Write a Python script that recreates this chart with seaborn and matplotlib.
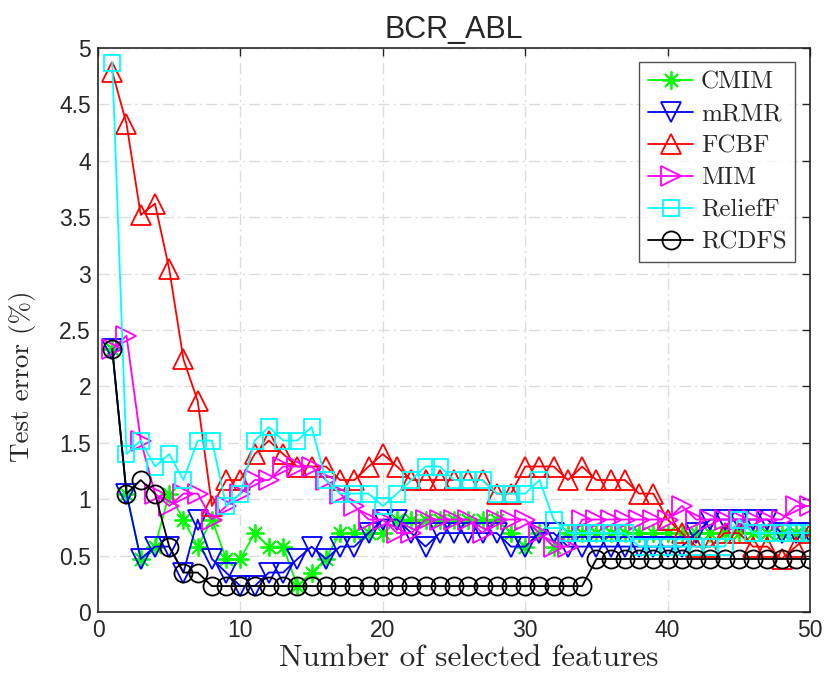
import matplotlib
matplotlib.use("Agg")
import matplotlib.pyplot as plt
import numpy as np
import pandas as pd
import seaborn as sns

# Data (test error in %)
n_features = list(range(1, 51))

cmim = [2.33, 1.05, 0.47, 0.58, 1.05, 0.82, 0.58, 0.82, 0.47, 0.47,
        0.70, 0.58, 0.58, 0.23, 0.35, 0.47, 0.70, 0.70, 0.70, 0.70,
        0.82, 0.82, 0.82, 0.82, 0.82, 0.82, 0.82, 0.82, 0.70, 0.58,
        0.70, 0.58, 0.70, 0.70, 0.70, 0.70, 0.70, 0.70, 0.70, 0.70,
        0.70, 0.70, 0.70, 0.70, 0.70, 0.70, 0.70, 0.70, 0.70, 0.70]
mrmr = [2.33, 1.05, 0.47, 0.58, 0.58, 0.35, 0.82, 0.47, 0.35, 0.23,
        0.23, 0.35, 0.35, 0.47, 0.58, 0.47, 0.58, 0.58, 0.70, 0.82,
        0.82, 0.70, 0.58, 0.70, 0.70, 0.70, 0.70, 0.70, 0.58, 0.58,
        0.70, 0.70, 0.58, 0.58, 0.58, 0.58, 0.58, 0.58, 0.58, 0.58,
        0.58, 0.70, 0.82, 0.82, 0.82, 0.82, 0.82, 0.70, 0.70, 0.70]
fcbf = [4.79, 4.33, 3.52, 3.62, 3.04, 2.24, 1.87, 0.94, 1.17, 1.17,
        1.40, 1.52, 1.40, 1.29, 1.29, 1.29, 1.17, 1.17, 1.29, 1.40,
        1.29, 1.17, 1.17, 1.17, 1.17, 1.17, 1.17, 1.05, 1.05, 1.29,
        1.29, 1.29, 1.17, 1.29, 1.17, 1.17, 1.17, 1.05, 1.05, 0.82,
        0.70, 0.58, 0.58, 0.70, 0.70, 0.58, 0.58, 0.47, 0.58, 0.70]
mim = [2.33, 2.45, 1.52, 1.05, 0.94, 1.05, 1.05, 0.82, 0.94, 1.05,
       1.17, 1.17, 1.29, 1.29, 1.29, 1.17, 1.05, 0.94, 0.82, 0.82,
       0.70, 0.70, 0.82, 0.82, 0.82, 0.82, 0.70, 0.82, 0.82, 0.82,
       0.70, 0.58, 0.58, 0.82, 0.82, 0.82, 0.82, 0.82, 0.82, 0.82,
       0.94, 0.82, 0.82, 0.82, 0.82, 0.82, 0.82, 0.82, 0.94, 0.94]
relieff = [4.87, 1.40, 1.52, 1.29, 1.40, 1.17, 1.52, 1.52, 0.94, 1.05,
           1.52, 1.64, 1.52, 1.52, 1.64, 1.17, 1.05, 1.05, 1.05, 0.94,
           1.05, 1.17, 1.29, 1.29, 1.17, 1.17, 1.17, 1.05, 1.05, 1.05,
           1.17, 0.82, 0.70, 0.70, 0.70, 0.70, 0.70, 0.58, 0.58, 0.58,
           0.58, 0.58, 0.58, 0.58, 0.82, 0.70, 0.70, 0.70, 0.70, 0.70]
rcdfs = [2.33, 1.05, 1.17, 1.05, 0.58, 0.35, 0.35] + [0.23] * 27 + [0.47] * 16

methods = ["CMIM", "mRMR", "FCBF", "MIM", "ReliefF", "RCDFS"]
colors = ["#00ff00", "#0000ff", "#ff0000", "#ff00ff", "#00ffff", "#000000"]
markers = [(8, 2, 0), "v", "^", ">", "s", "o"]
msizes = [13, 14, 14, 14, 11, 13]

df = pd.DataFrame({"x": n_features, "CMIM": cmim, "mRMR": mrmr, "FCBF": fcbf,
                   "MIM": mim, "ReliefF": relieff, "RCDFS": rcdfs})
long = df.melt(id_vars="x", var_name="method", value_name="err")

sns.set_style("white")
plt.rcParams["font.family"] = ["Liberation Sans", "DejaVu Sans"]
serif = ["cmr10", "Liberation Serif", "DejaVu Serif"]

fig = plt.figure(figsize=(8.32, 6.81), dpi=100)
ax = fig.add_axes([0.1178, 0.1013, 0.8558, 0.8282])

for m, c, mk, ms in zip(methods, colors, markers, msizes):
    sub = long[long["method"] == m]
    sns.lineplot(data=sub, x="x", y="err", ax=ax, color=c, lw=1.3,
                 marker=mk, markersize=ms, markerfacecolor="none",
                 markeredgecolor=c, markeredgewidth=1.3, label=m)

ax.set_xlim(0, 50)
ax.set_ylim(0, 5)
ax.set_xticks(np.arange(0, 51, 10))
ax.set_yticks(np.arange(0, 5.01, 0.5))
ax.set_yticklabels(["0", "0.5", "1", "1.5", "2", "2.5", "3", "3.5", "4", "4.5", "5"])
ax.grid(True, color="#dcdcdc", linestyle=(0, (8, 3, 1.5, 3)), linewidth=1.0)
ax.tick_params(direction="in", length=6, width=1, labelsize=16.5,
               top=True, right=True, colors="#262626", pad=5)
for sp in ax.spines.values():
    sp.set_color("#262626")
    sp.set_linewidth(1.2)

ax.set_title("BCR_ABL", fontsize=22, pad=7)
ax.set_xlabel("Number of selected features", fontsize=22.5, family=serif)
ax.xaxis.set_label_coords(0.521, -0.057)
ax.set_ylabel("Test error (%)", fontsize=19.5, family=serif)
ax.yaxis.set_label_coords(-0.087, 0.418)

leg = ax.legend(loc="upper right", bbox_to_anchor=(0.979, 0.975),
                borderaxespad=0,
                prop={"family": serif, "size": 18}, frameon=True,
                fancybox=False, edgecolor="#262626", handlelength=1.8,
                labelspacing=0.38, borderpad=0.35, handletextpad=0.3)
leg.get_frame().set_linewidth(1.0)

fig.savefig("out.png", dpi=100)
